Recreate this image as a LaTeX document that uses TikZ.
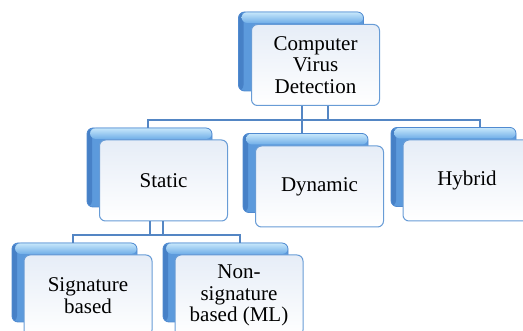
\documentclass[tikz,border=0pt]{standalone}
\usepackage{fontspec}
\setmainfont{Liberation Serif}
\usepackage{tikz}

\definecolor{linkblue}{RGB}{84,134,196}
\definecolor{backline}{RGB}{80,138,208}
\definecolor{backmid}{RGB}{92,154,220}
\definecolor{bevtop}{RGB}{200,232,251}
\definecolor{bevbot}{RGB}{112,174,232}
\definecolor{bevleft}{RGB}{70,128,198}
\definecolor{frontline}{RGB}{104,156,214}
\definecolor{fronttop}{RGB}{230,237,247}

\begin{document}
\begin{tikzpicture}
 [x=1pt,y=-1pt,
  back node/.style={rectangle, rounded corners=6pt, minimum width=125pt, minimum height=79pt,
    draw=backline, line width=0.8pt, fill=backmid,
    path picture={
      \fill[left color=bevleft, right color=backmid]
        (path picture bounding box.north west) rectangle ([xshift=5pt]path picture bounding box.south west);
      \fill[top color=bevtop, bottom color=bevbot]
        ([xshift=3pt]path picture bounding box.north west) rectangle ([yshift=-11pt]path picture bounding box.north east);}},
  main node/.style={rectangle, rounded corners=6pt, minimum width=128pt, minimum height=81pt,
    draw=frontline, line width=1pt, top color=fronttop, bottom color=white,
    align=center, font=\rmfamily\fontsize{21}{21.5}\selectfont},
  link/.style={draw=linkblue, line width=1.3pt}]

 \useasboundingbox (0,0) rectangle (523,331);

 % junctions of the connectors
 \coordinate (top left) at (148,120);
 \coordinate (top right) at (480,120);
 \coordinate (top mid) at (302,120);
 \coordinate (top aux) at (328,120);
 \coordinate (st left) at (73,235);
 \coordinate (st right) at (240,235);
 \coordinate (st mid) at (150,235);
 \coordinate (st aux) at (163,235);

 \node[back node] (cvd back) at (301,51.5) {};
 \node[back node] (static back) at (149.5,167.5) {};
 \node[back node] (dynamic back) at (305.5,173) {};
 \node[back node] (hybrid back) at (453.5,167) {};
 \node[back node] (sig back) at (74.5,282.5) {};
 \node[back node] (nonsig back) at (225.5,282.5) {};

 \path[link]
  (static back.north -| top left) -- (top left) -- (top right) -- (hybrid back.north -| top right)
  (top mid |- cvd back.south) -- (dynamic back.north -| top mid)
  (top aux |- cvd back.south) -- (top aux)
  (sig back.north -| st left) -- (st left) -- (st right) -- (nonsig back.north -| st right)
  (st mid |- static back.south) -- (st mid)
  (st aux |- static back.south) -- (st aux);

 \node[main node] (cvd) at (315.5,65) {Computer\\Virus\\Detection};
 \node[main node] (static) at (163.5,180.5) {Static};
 \node[main node] (dynamic) at (319.5,186.5) {Dynamic};
 \node[main node] (hybrid) at (467,180.5) {Hybrid};
 \node[main node] (sig) at (88,295.5) {Signature\\based};
 \node[main node] (nonsig) at (239,295.5) {Non-\\signature\\based (ML)};

 \path[link]
  (cvd.south -| top mid) -- (top mid)
  (cvd.south -| top aux) -- (top aux)
  (static.south -| st mid) -- (st mid)
  (static.south -| st aux) -- (st aux);

\end{tikzpicture}
\end{document}
